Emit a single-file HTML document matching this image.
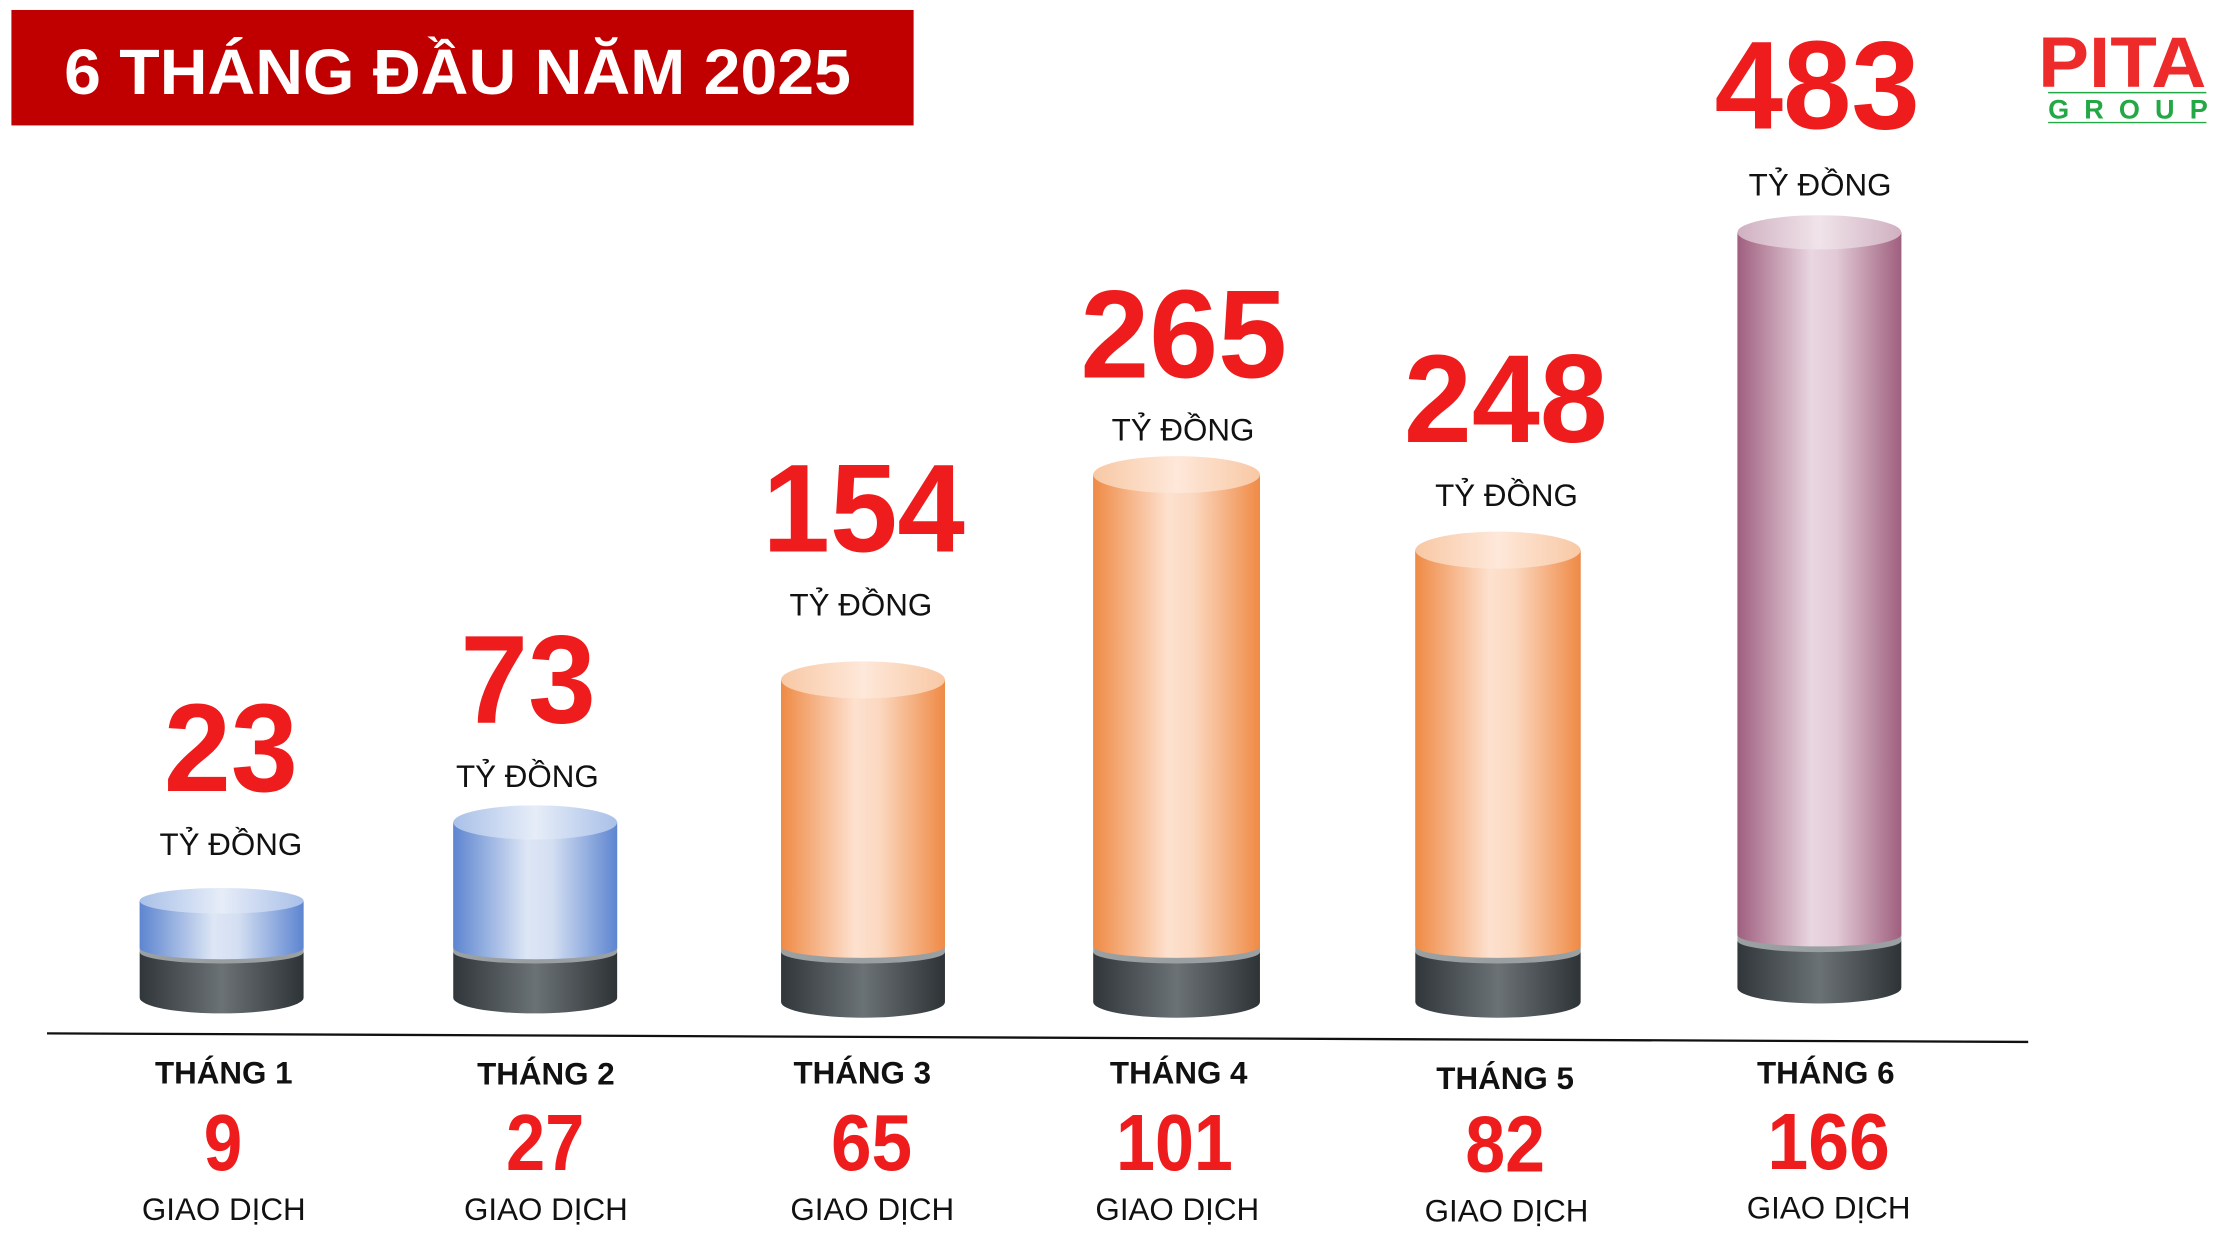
<!DOCTYPE html>
<html><head><meta charset="utf-8"><style>
html,body{margin:0;padding:0;background:#fff;}
svg{display:block;}
text{font-family:"Liberation Sans",sans-serif;}
</style></head><body>
<svg width="2232" height="1260" viewBox="0 0 1566 884" preserveAspectRatio="none" xmlns="http://www.w3.org/2000/svg">
<defs>
<linearGradient id="or" x1="0" x2="1"><stop offset="0" stop-color="#ef8a45"/><stop offset="0.45" stop-color="#fde1cf"/><stop offset="0.6" stop-color="#fbd8c0"/><stop offset="1" stop-color="#ef8a45"/></linearGradient>
<linearGradient id="orT" x1="0" x2="1"><stop offset="0" stop-color="#f8c8a4"/><stop offset="0.5" stop-color="#fee8da"/><stop offset="1" stop-color="#f8c8a4"/></linearGradient>
<linearGradient id="bl" x1="0" x2="1"><stop offset="0" stop-color="#5d85d0"/><stop offset="0.45" stop-color="#dde6f5"/><stop offset="0.6" stop-color="#d4dff2"/><stop offset="1" stop-color="#5d85d0"/></linearGradient>
<linearGradient id="blT" x1="0" x2="1"><stop offset="0" stop-color="#a9c0e8"/><stop offset="0.5" stop-color="#e6edf8"/><stop offset="1" stop-color="#a9c0e8"/></linearGradient>
<linearGradient id="pu" x1="0" x2="1"><stop offset="0" stop-color="#9f5f7e"/><stop offset="0.45" stop-color="#e9d6e0"/><stop offset="0.6" stop-color="#e2cad6"/><stop offset="1" stop-color="#9f5f7e"/></linearGradient>
<linearGradient id="puT" x1="0" x2="1"><stop offset="0" stop-color="#d0b0c0"/><stop offset="0.5" stop-color="#f0e4ea"/><stop offset="1" stop-color="#d0b0c0"/></linearGradient>
<linearGradient id="dk" x1="0" x2="1"><stop offset="0" stop-color="#30363a"/><stop offset="0.5" stop-color="#6b7275"/><stop offset="1" stop-color="#2e3336"/></linearGradient>
</defs>
<rect x="8" y="7" width="633" height="81" fill="#c00000"/>
<text x="45" y="66" fill="#fff" font-size="45" font-weight="bold" textLength="552" lengthAdjust="spacingAndGlyphs">6 THÁNG ĐẦU NĂM 2025</text>
<text x="1430" y="61" fill="#ee2b2b" font-size="50" font-weight="bold" textLength="118" lengthAdjust="spacingAndGlyphs">PITA</text>
<line x1="1437" y1="65" x2="1548" y2="65" stroke="#22a845" stroke-width="1"/>
<text x="1437" y="83" fill="#22a845" font-size="19" font-weight="bold" textLength="112" lengthAdjust="spacing">GROUP</text>
<line x1="1437" y1="86" x2="1548" y2="86" stroke="#22a845" stroke-width="1"/>

<line x1="33" y1="725" x2="1423" y2="731" stroke="#111" stroke-width="1.6"/>

<path d="M98,668 v32 a57.5,11 0 0 0 115,0 v-32 z" fill="url(#dk)"/>
<path d="M98,632 v36 a57.5,8 0 0 0 115,0 v-36 z" fill="#9aa0a2"/>
<path d="M98,632 v33 a57.5,8 0 0 0 115,0 v-33 z" fill="url(#bl)"/>
<ellipse cx="155.5" cy="632" rx="57.5" ry="9" fill="url(#blT)"/>
<path d="M318,668 v32 a57.5,11 0 0 0 115,0 v-32 z" fill="url(#dk)"/>
<path d="M318,577 v91 a57.5,8 0 0 0 115,0 v-91 z" fill="#9aa0a2"/>
<path d="M318,577 v88 a57.5,8 0 0 0 115,0 v-88 z" fill="url(#bl)"/>
<ellipse cx="375.5" cy="577" rx="57.5" ry="12" fill="url(#blT)"/>
<path d="M548,668 v35 a57.5,11 0 0 0 115,0 v-35 z" fill="url(#dk)"/>
<path d="M548,477 v191 a57.5,8 0 0 0 115,0 v-191 z" fill="#9aa0a2"/>
<path d="M548,477 v187 a57.5,8 0 0 0 115,0 v-187 z" fill="url(#or)"/>
<ellipse cx="605.5" cy="477" rx="57.5" ry="13" fill="url(#orT)"/>
<path d="M767,668 v35 a58.5,11 0 0 0 117,0 v-35 z" fill="url(#dk)"/>
<path d="M767,333 v335 a58.5,8 0 0 0 117,0 v-335 z" fill="#9aa0a2"/>
<path d="M767,333 v331 a58.5,8 0 0 0 117,0 v-331 z" fill="url(#or)"/>
<ellipse cx="825.5" cy="333" rx="58.5" ry="13" fill="url(#orT)"/>
<path d="M993,668 v35 a58,11 0 0 0 116,0 v-35 z" fill="url(#dk)"/>
<path d="M993,386 v282 a58,8 0 0 0 116,0 v-282 z" fill="#9aa0a2"/>
<path d="M993,386 v278 a58,8 0 0 0 116,0 v-278 z" fill="url(#or)"/>
<ellipse cx="1051" cy="386" rx="58" ry="13" fill="url(#orT)"/>
<path d="M1219,660 v33 a57.5,11 0 0 0 115,0 v-33 z" fill="url(#dk)"/>
<path d="M1219,163 v497 a57.5,8 0 0 0 115,0 v-497 z" fill="#9aa0a2"/>
<path d="M1219,163 v493 a57.5,8 0 0 0 115,0 v-493 z" fill="url(#pu)"/>
<ellipse cx="1276.5" cy="163" rx="57.5" ry="12" fill="url(#puT)"/>

<g fill="#ee1c1c" font-weight="bold" font-size="88">
<text x="115" y="555" textLength="94" lengthAdjust="spacingAndGlyphs">23</text>
<text x="323" y="507" textLength="95" lengthAdjust="spacingAndGlyphs">73</text>
<text x="535" y="387" textLength="142" lengthAdjust="spacingAndGlyphs">154</text>
<text x="758" y="265" textLength="145" lengthAdjust="spacingAndGlyphs">265</text>
<text x="985" y="310" textLength="143" lengthAdjust="spacingAndGlyphs">248</text>
<text x="1203" y="90" textLength="144" lengthAdjust="spacingAndGlyphs">483</text>
</g>
<g fill="#111" font-size="22" text-anchor="middle">
<text x="162" y="600">TỶ ĐỒNG</text>
<text x="370" y="552">TỶ ĐỒNG</text>
<text x="604" y="432">TỶ ĐỒNG</text>
<text x="830" y="309">TỶ ĐỒNG</text>
<text x="1057" y="355">TỶ ĐỒNG</text>
<text x="1277" y="137">TỶ ĐỒNG</text>
</g>
<g fill="#111" font-size="22" font-weight="bold" text-anchor="middle">
<text x="157" y="760">THÁNG 1</text>
<text x="383" y="761">THÁNG 2</text>
<text x="605" y="760">THÁNG 3</text>
<text x="827" y="760">THÁNG 4</text>
<text x="1056" y="764">THÁNG 5</text>
<text x="1281" y="760">THÁNG 6</text>
</g>
<g fill="#ee1c1c" font-size="56" font-weight="bold">
<text x="143" y="821" textLength="27" lengthAdjust="spacingAndGlyphs">9</text>
<text x="355" y="821" textLength="55" lengthAdjust="spacingAndGlyphs">27</text>
<text x="583" y="821" textLength="57" lengthAdjust="spacingAndGlyphs">65</text>
<text x="783" y="821" textLength="82" lengthAdjust="spacingAndGlyphs">101</text>
<text x="1028" y="822" textLength="56" lengthAdjust="spacingAndGlyphs">82</text>
<text x="1240" y="820" textLength="86" lengthAdjust="spacingAndGlyphs">166</text>
</g>
<g fill="#111" font-size="22" text-anchor="middle">
<text x="157" y="856">GIAO DỊCH</text>
<text x="383" y="856">GIAO DỊCH</text>
<text x="612" y="856">GIAO DỊCH</text>
<text x="826" y="856">GIAO DỊCH</text>
<text x="1057" y="857">GIAO DỊCH</text>
<text x="1283" y="855">GIAO DỊCH</text>
</g>
</svg>
</body></html>
